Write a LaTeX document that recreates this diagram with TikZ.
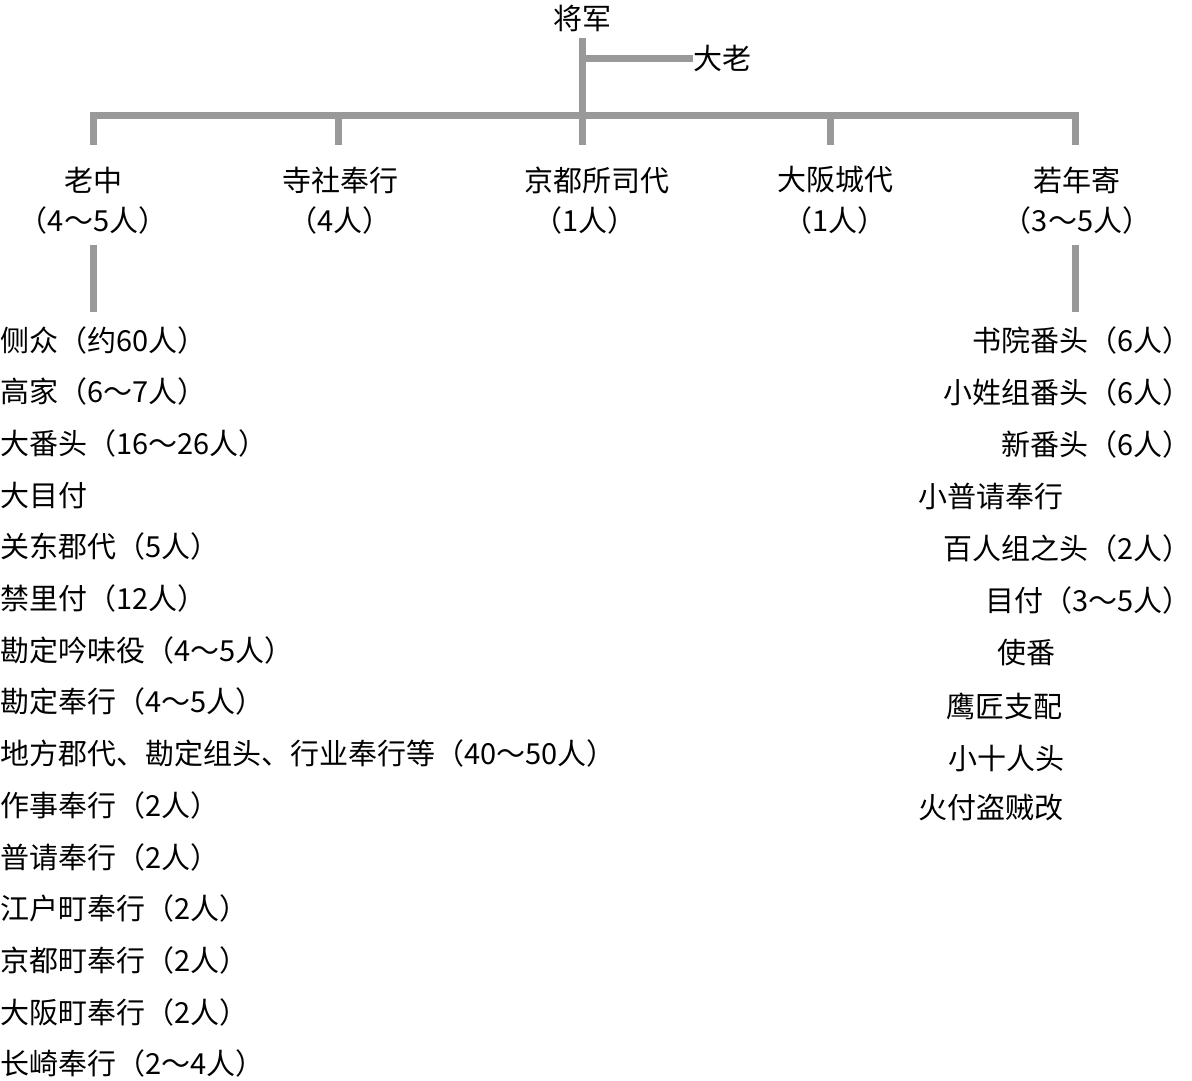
\documentclass[tikz,border=0pt]{standalone}
\usepackage{fontspec}
\setmainfont{Noto Sans CJK SC}
\begin{document}
\begin{tikzpicture}[x=1pt,y=-1pt,
  ln/.style={draw=black!40,line width=7pt},
  t/.style={inner sep=0pt,font=\fontsize{29}{32}\selectfont},
  l/.style={t,anchor=west},
  r/.style={t,anchor=east}]
\useasboundingbox (0,0) rectangle (1192,1080);
\node[t] (jj) at (582,18) {将军};
\node[t] (dl) at (722,58) {大老};
\coordinate (top) at (582,38);
\coordinate (mid) at (582,115);
\coordinate (b1) at (93,115); \coordinate (b5) at (1075,115);
\draw[ln] (top) -- (mid);
\draw[ln] (582,58) -- (dl.west);
\draw[ln,line cap=rect] (b1) -- (b5);
\foreach \x in {93,338,582,830,1075} \draw[ln] (\x,115) -- (\x,145);
\node[t] (lz) at (93,180) {老中};
\node[t] (lzn) at (93,220) {（4～5人）};
\node[t] at (340,180) {寺社奉行};
\node[t] at (340,220) {（4人）};
\node[t] at (597,180) {京都所司代};
\node[t] at (585,220) {（1人）};
\node[t] at (835,180) {大阪城代};
\node[t] at (835,220) {（1人）};
\node[t] (rn) at (1077,180) {若年寄};
\node[t] (rnn) at (1077,220) {（3～5人）};
\draw[ln] (93,245) -- (93,312);
\draw[ln] (1075,245) -- (1075,312);
\foreach \s [count=\i from 0] in {侧众（约60人）,高家（6～7人）,大番头（16～26人）,大目付,关东郡代（5人）,禁里付（12人）,勘定吟味役（4～5人）,勘定奉行（4～5人）,地方郡代、勘定组头、行业奉行等（40～50人）,作事奉行（2人）,普请奉行（2人）,江户町奉行（2人）,京都町奉行（2人）,大阪町奉行（2人）,长崎奉行（2～4人）}
  \node[l] at (0,340+51.7*\i) {\s};
\node[r] at (1192,340) {书院番头（6人）};
\node[r] at (1192,392) {小姓组番头（6人）};
\node[r] at (1192,444) {新番头（6人）};
\node[l] at (918,496) {小普请奉行};
\node[r] at (1192,548) {百人组之头（2人）};
\node[r] at (1192,600) {目付（3～5人）};
\node[l] at (997,652) {使番};
\node[l] at (946,706) {鹰匠支配};
\node[l] at (948,758) {小十人头};
\node[l] at (918,808) {火付盗贼改};
\end{tikzpicture}
\end{document}
